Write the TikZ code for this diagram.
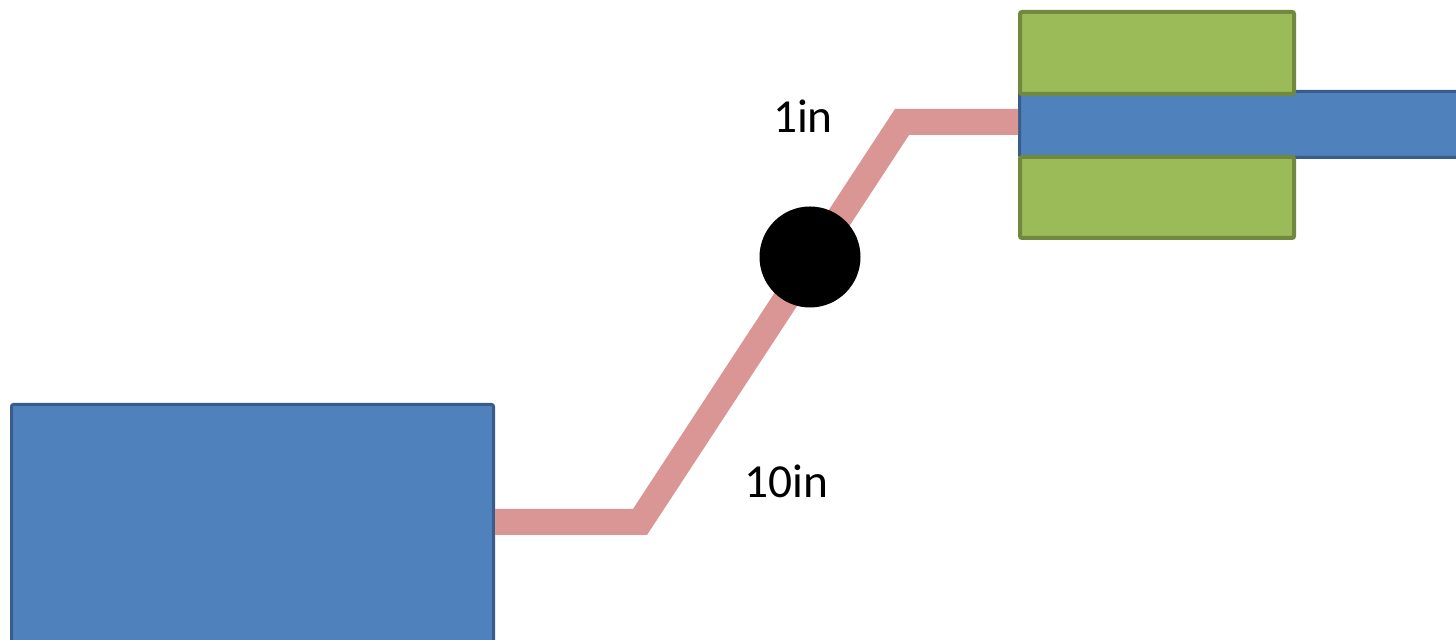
\documentclass[tikz,border=0pt]{standalone}
\usepackage{fontspec}
\setmainfont{Carlito}
\usepackage{tikz}
\usetikzlibrary{positioning}
\definecolor{boxblue}{RGB}{79,129,189}
\definecolor{boxblueline}{RGB}{56,93,138}
\definecolor{padgreen}{RGB}{155,187,89}
\definecolor{padgreenline}{RGB}{113,137,63}
\definecolor{wirepink}{RGB}{217,150,148}
\tikzstyle{block} = [rectangle, draw=boxblueline, fill=boxblue, line width=1.5pt, rounded corners=1pt, inner sep=0pt, anchor=north west]
\tikzstyle{pad} = [rectangle, draw=padgreenline, fill=padgreen, line width=2pt, rounded corners=1pt, inner sep=0pt, anchor=north west]
\tikzstyle{wire} = [draw=wirepink, line width=13pt]
\tikzstyle{joint} = [circle, fill=black, minimum size=50.5pt, inner sep=0pt]
\tikzstyle{dimlabel} = [font=\fontsize{23.7}{28}\selectfont, inner sep=0pt]

\begin{document}
\begin{tikzpicture}[x=0.5pt, y=0.5pt]
    \clip (0,0) rectangle (1456,640);
    \node [block, minimum width=241pt, minimum height=140pt] (board) at (10,237) {};
    \node [block, minimum width=231pt, minimum height=33pt] (rod) at (1018,550) {};
    \node [pad, minimum width=137pt, minimum height=41pt] (toppad) at (1018,630) {};
    \node [pad, minimum width=137pt, minimum height=40.5pt] (bottompad) at (1018,485) {};

    \coordinate (lowbend) at (640,118);
    \coordinate (highbend) at (902,518);
    \path [wire] (board.east |- lowbend) -- (lowbend) -- (highbend) -- (rod.west |- highbend);

    \node [joint] (joint) at (810,383) {};
    \node [dimlabel, above of=joint, node distance=70.5pt, xshift=-3.5pt] (shortlen) {1in};
    \node [dimlabel, below of=joint, node distance=112pt, xshift=-12pt] (longlen) {10in};
\end{tikzpicture}
\end{document}
